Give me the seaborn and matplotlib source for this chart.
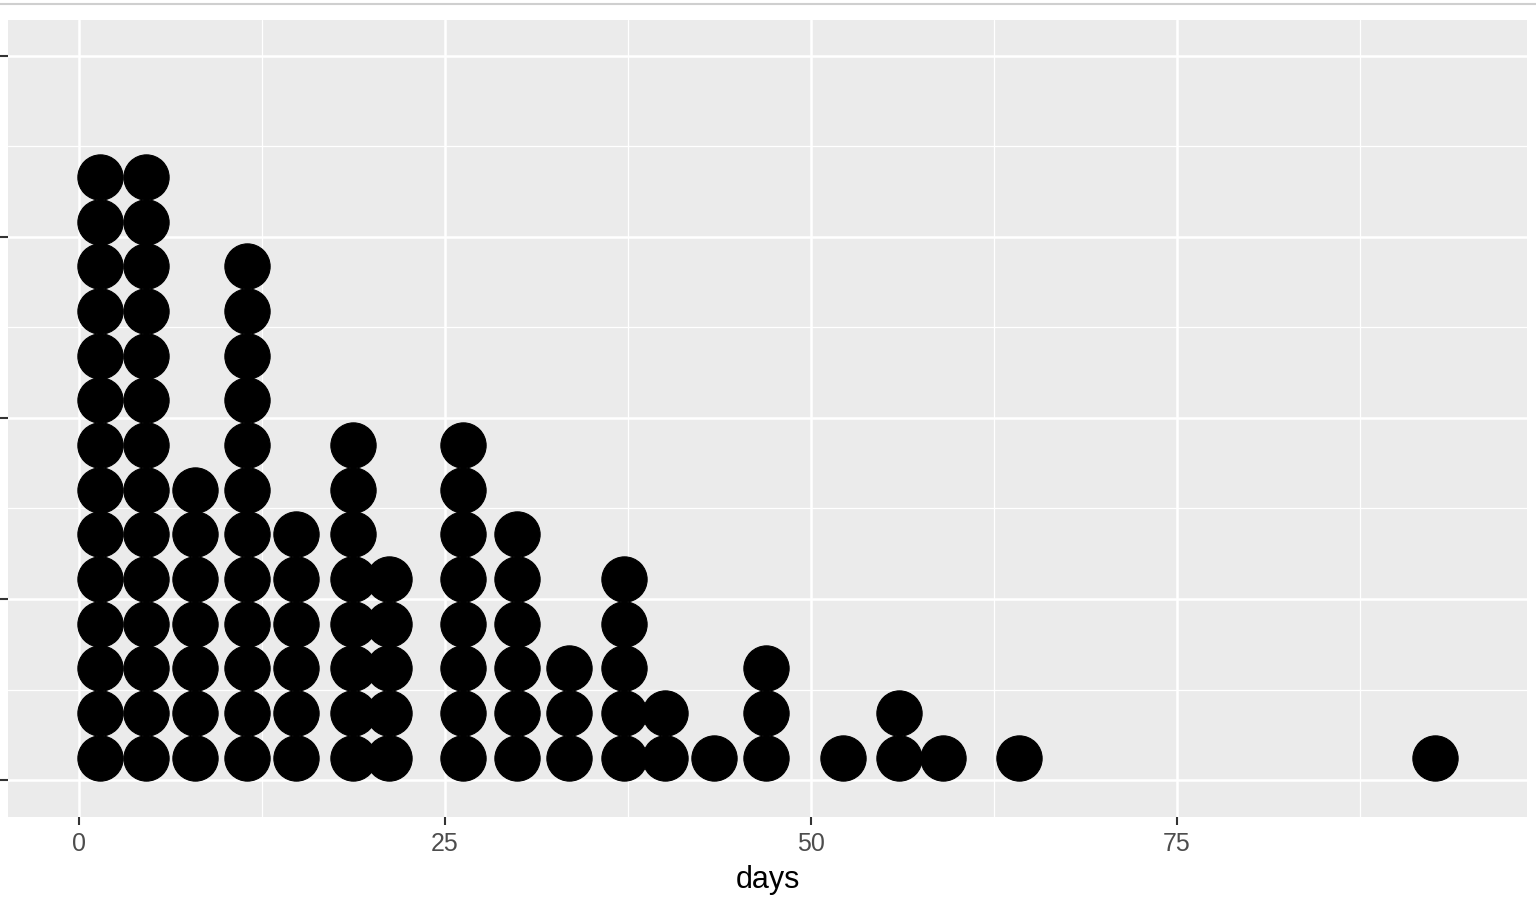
import numpy as np
import pandas as pd
import matplotlib
matplotlib.use("Agg")
import matplotlib.pyplot as plt
import seaborn as sns
from matplotlib.lines import Line2D
from matplotlib.ticker import FixedLocator

# ---- data ----
bin_centers = [1.4, 4.6, 7.9, 11.5, 14.8, 18.7, 21.2, 26.2, 29.9, 33.5,
               37.2, 40.0, 43.4, 46.9, 52.2, 56.0, 59.0, 64.2, 92.6]
bin_counts = [14, 14, 7, 12, 6, 8, 5, 8, 6, 3,
              5, 2, 1, 3, 1, 2, 1, 1, 1]
x_ticks = [0, 25, 50, 75]
y_ticks = [0, 0.25, 0.5, 0.75, 1.0]
x_label = "days"

# ---- style constants ----
DOT_STEP = 0.0617          # vertical stacking step in y-data units
XLIM = (-4.85, 98.9)
YLIM = (-0.0511, 1.0497)

rows = []
for c, n in zip(bin_centers, bin_counts):
    for k in range(n):
        rows.append({"days": c, "y": (k + 0.5) * DOT_STEP})
df = pd.DataFrame(rows)

sns.set_theme(style="darkgrid")
plt.rcParams["font.family"] = ["Liberation Sans", "DejaVu Sans"]

fig = plt.figure(figsize=(15.36, 9.10), dpi=100)
ax = fig.add_axes([8 / 1536, 93 / 910, 1519 / 1536, 797 / 910])
ax.set_facecolor("#EBEBEB")

sns.scatterplot(data=df, x="days", y="y", ax=ax, color="black",
                s=(32.6) ** 2, edgecolor="black", linewidth=0.8, zorder=3,
                legend=False)

ax.set_xlim(*XLIM)
ax.set_ylim(*YLIM)
ax.set_xticks(x_ticks)
ax.set_xticklabels([str(t) for t in x_ticks])
ax.set_yticks(y_ticks)
ax.set_yticklabels([])
ax.xaxis.set_minor_locator(FixedLocator([12.5, 37.5, 62.5, 87.5]))
ax.yaxis.set_minor_locator(FixedLocator([0.125, 0.375, 0.625, 0.875]))

ax.grid(which="major", color="white", linewidth=1.8)
ax.grid(which="minor", color="white", linewidth=0.9)
ax.set_axisbelow(True)
for sp in ax.spines.values():
    sp.set_visible(False)

ax.tick_params(axis="x", which="major", length=6, width=1.5, color="#333333",
               labelsize=18, labelcolor="#4D4D4D", pad=4.5, bottom=True)
ax.tick_params(axis="y", which="major", length=6, width=1.5, color="#333333",
               left=True, labelleft=False)
ax.tick_params(which="minor", length=0)

ax.set_xlabel(x_label, fontsize=22, color="black", labelpad=7)
ax.set_ylabel("")

fig.add_artist(Line2D([0, 1], [1 - 3.5 / 910, 1 - 3.5 / 910],
                      transform=fig.transFigure, color="#CFCFCF", linewidth=1.5))

fig.savefig("out.png", dpi=100, facecolor="white")
